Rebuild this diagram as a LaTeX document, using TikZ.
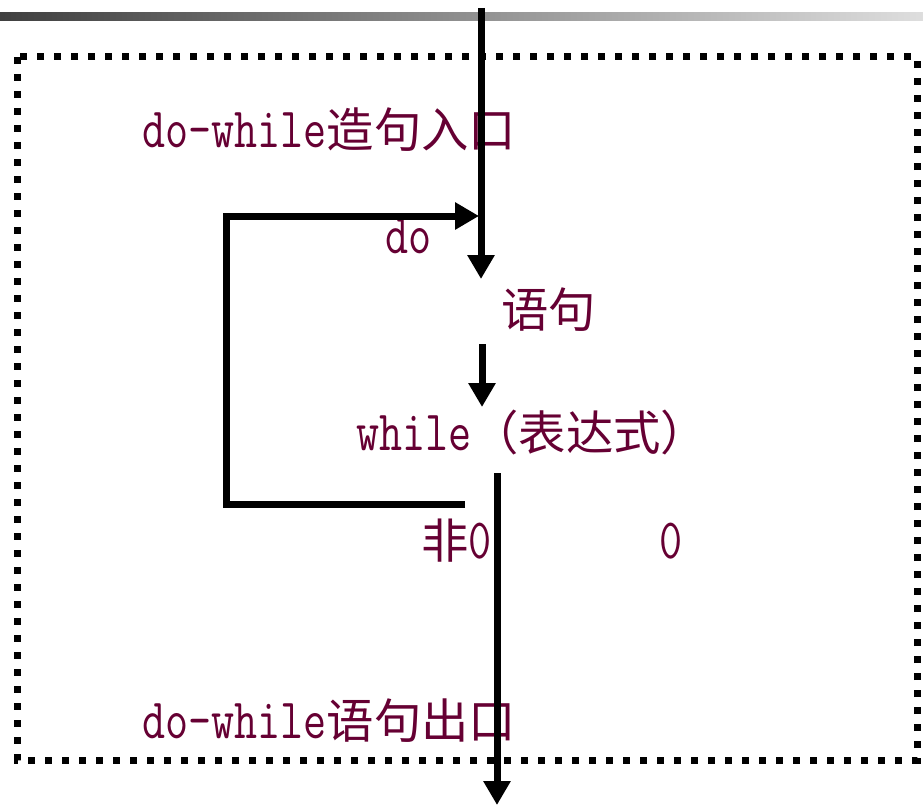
\documentclass[tikz,border=0pt]{standalone}
\usepackage{fontspec}
\usetikzlibrary{arrows.meta}
\newfontfamily\cjkfont{Noto Sans CJK SC}
\definecolor{labelred}{RGB}{102,0,51}
% Latin runs: typewriter face, stretched upright to the height of the CJK glyphs
\newcommand{\lt}[1]{\scalebox{1}[1.27]{\fontsize{33.6}{40}\ttfamily #1}}
\newcommand{\zh}[1]{{\cjkfont #1}}
\begin{document}
\begin{tikzpicture}[x=0.75pt,y=-0.75pt,
  label text/.style={anchor=base west,inner sep=0pt,text=labelred,
    font=\fontsize{35.5}{40}\selectfont},
  flow/.style={line width=5.25pt,line join=miter},
  flowarrow/.style={flow,-{Triangle[length=18pt,width=19.5pt]}},
  frame/.style={line width=5.25pt,dash pattern=on 5.25pt off 7.5pt}]
\useasboundingbox (0,0) rectangle (923,806);
\fill[white] (0,0) rectangle (923,806);

% header bar
\shade[left color=black!75,right color=black!13] (0,13) rectangle (923,21);

% dotted frame around the statement
\draw[frame] (17,57) rectangle (917,760);

% labels
\node[label text] (entry) at (142,147) {\lt{do-while}\zh{造句入口}};
\node[label text] (do) at (385,253) {\lt{do}};
\node[label text] (body) at (501,327) {\zh{语句}};
\node[label text] (cond) at (356,450) {\lt{while}\zh{（表达式）}};
\node[label text] (nonzero) at (421,558) {\zh{非}\lt{0}};
\node[label text] (zero) at (659,558) {\lt{0}};
\node[label text] (exit) at (142,738) {\lt{do-while}\zh{语句出口}};

% connector points
\coordinate (in) at (481,8);
\coordinate (bodytop) at (481,279);
\coordinate (bodyout) at (482,344);
\coordinate (condin) at (482,407);
\coordinate (loopstart) at (465,504);
\coordinate (loopbl) at (226,504);
\coordinate (looptl) at (226,216);
\coordinate (loopend) at (479,216);
\coordinate (condout) at (497,473);
\coordinate (out) at (497,805);

% flow lines
\draw[flowarrow] (in) -- (bodytop);
\draw[flowarrow] (bodyout) -- (condin);
\draw[flowarrow] (loopstart) -- (loopbl) -- (looptl) -- (loopend);
\draw[flowarrow] (condout) -- (out);
\end{tikzpicture}
\end{document}
